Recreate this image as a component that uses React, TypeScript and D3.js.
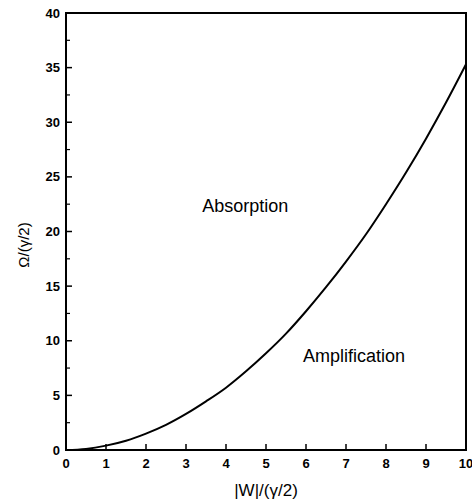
import React from "react";
import * as d3 from "d3";

const xValues = [0, 0.5, 1, 1.5, 2, 2.5, 3, 3.5, 4, 4.5, 5, 5.5, 6, 6.5, 7, 7.5, 8, 8.5, 9, 9.5, 10];
const yValues = [0, 0.1, 0.4, 0.85, 1.5, 2.3, 3.3, 4.45, 5.7, 7.2, 8.85, 10.65, 12.7, 14.9, 17.25, 19.75, 22.5, 25.4, 28.5, 31.8, 35.3];
const xTicks = [0, 1, 2, 3, 4, 5, 6, 7, 8, 9, 10];
const yTicks = [0, 5, 10, 15, 20, 25, 30, 35, 40];
const yMinorTicks = [2.5, 7.5, 12.5, 17.5, 22.5, 27.5, 32.5, 37.5];
const regionLabels = [
  { text: "Absorption", x: 4.48, y: 21.8 },
  { text: "Amplification", x: 7.2, y: 8.1 },
];

const W = 472;
const H = 502;
const left = 66;
const right = 466;
const top = 13;
const bottom = 450;

export default function App() {
  const x = d3.scaleLinear().domain([0, 10]).range([left, right]);
  const y = d3.scaleLinear().domain([0, 40]).range([bottom, top]);
  const pts = xValues.map((v, i) => [v, yValues[i]] as [number, number]);
  const line = d3
    .line<[number, number]>()
    .x((d) => x(d[0]))
    .y((d) => y(d[1]))
    .curve(d3.curveMonotoneX);
  const font = "Arial, 'Liberation Sans', Helvetica, sans-serif";
  return (
    <svg
      width={W}
      height={H}
      style={{ position: "absolute", left: 0, top: 0, background: "#fff" }}
      fontFamily={font}
    >
      <defs>
        <clipPath id="plot">
          <rect x={left} y={top} width={right - left} height={bottom - top} />
        </clipPath>
      </defs>
      <rect x={left} y={top} width={right - left} height={bottom - top} fill="none" stroke="#000" strokeWidth={2} />
      {xTicks.map((t) => (
        <g key={"xt" + t}>
          <line x1={x(t)} x2={x(t)} y1={bottom} y2={bottom - 6} stroke="#000" strokeWidth={1.5} />
          <text x={x(t)} y={bottom + 18} textAnchor="middle" fontSize={13} fontWeight="bold">
            {t}
          </text>
        </g>
      ))}
      {yTicks.map((t) => (
        <g key={"yt" + t}>
          <line x1={left} x2={left + 6} y1={y(t)} y2={y(t)} stroke="#000" strokeWidth={1.5} />
          <text x={left - 6} y={y(t) + 4.5} textAnchor="end" fontSize={13} fontWeight="bold">
            {t}
          </text>
        </g>
      ))}
      {yMinorTicks.map((t) => (
        <line key={"ym" + t} x1={left} x2={left + 4} y1={y(t)} y2={y(t)} stroke="#000" strokeWidth={1.2} />
      ))}
      <path d={line(pts) || ""} fill="none" stroke="#000" strokeWidth={2} clipPath="url(#plot)" />
      {regionLabels.map((l) => (
        <text key={l.text} x={x(l.x)} y={y(l.y)} textAnchor="middle" fontSize={18}>
          {l.text}
        </text>
      ))}
      <text x={x(5)} y={496} textAnchor="middle" fontSize={17}>
        |W|/(γ/2)
      </text>
      <text transform={`translate(29, 245) rotate(-90)`} textAnchor="middle" fontSize={15}>
        Ω/(γ/2)
      </text>
    </svg>
  );
}
